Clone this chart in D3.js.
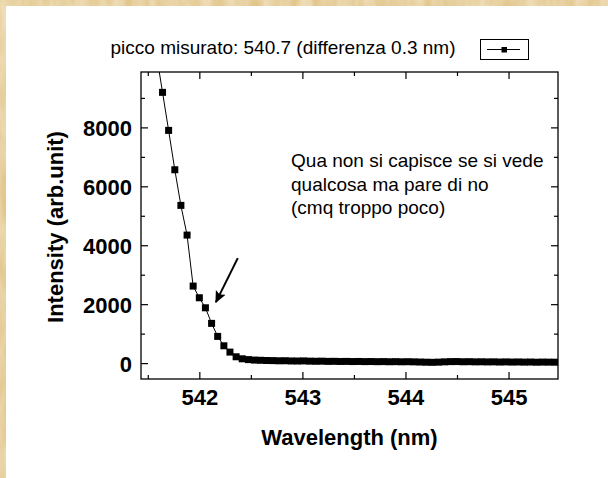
<!DOCTYPE html>
<html>
<head>
<meta charset="utf-8">
<script src="https://cdn.jsdelivr.net/npm/d3@7"></script>
<style>
  html, body { margin: 0; padding: 0; background: #fff; overflow: hidden; }
  svg { display: block; }
  text { font-family: "Liberation Sans", Arial, sans-serif; fill: #000; }
</style>
</head>
<body>
<svg id="chart" width="608" height="478"></svg>
<script>
// Emission spectrum near 542 nm
const wavelength = [
  541.583, 541.643, 541.702, 541.762, 541.821, 541.881, 541.940, 542.000, 542.059, 542.119,
  542.178, 542.238, 542.297, 542.357, 542.416, 542.476, 542.535, 542.595, 542.654, 542.714,
  542.773, 542.833, 542.892, 542.952, 543.011, 543.071, 543.130, 543.190, 543.249, 543.309,
  543.368, 543.428, 543.487, 543.547, 543.606, 543.666, 543.725, 543.785, 543.844, 543.904,
  543.963, 544.023, 544.082, 544.142, 544.201, 544.261, 544.320, 544.380, 544.439, 544.499,
  544.558, 544.618, 544.677, 544.737, 544.796, 544.856, 544.915, 544.975, 545.034, 545.094,
  545.153, 545.213, 545.272, 545.332, 545.391, 545.451, 545.510
];
const intensity = [
  10500, 9189, 7898, 6562, 5353, 4345, 2614, 2217, 1877, 1348,
  906, 587, 373, 214, 146, 118, 102, 95, 88, 84,
  78, 80, 72, 70, 74, 66, 62, 65, 58, 60,
  55, 57, 52, 55, 50, 53, 48, 51, 46, 49,
  44, 47, 42, 36, 30, 26, 32, 42, 50, 52,
  45, 48, 42, 44, 40, 42, 36, 40, 35, 38,
  33, 36, 30, 34, 32, 30, 31
];

const xMajorTicks = [542, 543, 544, 545];
const xMinorTicks = [541.5, 542.5, 543.5, 544.5];
const yMajorTicks = [0, 2000, 4000, 6000, 8000];
const yMinorTicks = [1000, 3000, 5000, 7000, 9000];

const titleText = "picco misurato: 540.7 (differenza 0.3 nm)";
const noteLines = ["Qua non si capisce se si vede", "qualcosa ma pare di no", "(cmq troppo poco)"];
// arrow: tail and head in data units [wavelength, intensity]
const arrowTail = [542.373, 3564];
const arrowHead = [542.161, 2070];
const noteAnchor = [542.89, 6640];

const W = 608, H = 478;
const frame = { left: 141, top: 72, right: 558, bottom: 379 };

const svg = d3.select("#chart");
const defs = svg.append("defs");

// parchment texture along the top and left border
const tex = defs.append("filter").attr("id", "parch")
  .attr("filterUnits", "userSpaceOnUse").attr("x", 0).attr("y", 0).attr("width", W).attr("height", H);
tex.append("feTurbulence").attr("type", "fractalNoise").attr("baseFrequency", "0.08 0.02")
  .attr("numOctaves", 3).attr("seed", 4).attr("result", "n");
tex.append("feColorMatrix").attr("in", "n").attr("type", "matrix")
  .attr("values", "0 0 0 0 0.92  0 0 0 0 0.82  0 0 0 0 0.60  0 0 0 -1.2 0.9").attr("result", "c");
tex.append("feComposite").attr("in", "c").attr("in2", "SourceGraphic").attr("operator", "atop");

const border = svg.append("g");
border.append("rect").attr("x", 0).attr("y", 0).attr("width", W).attr("height", 6).attr("fill", "#e2c68c").attr("filter", "url(#parch)");
border.append("rect").attr("x", 0).attr("y", 0).attr("width", 6).attr("height", H).attr("fill", "#e2c68c").attr("filter", "url(#parch)");

const x = d3.scaleLinear().domain([541.434, 545.48]).range([frame.left, frame.right]);
const y = d3.scaleLinear().domain([-540, 9880]).range([frame.bottom, frame.top]);

defs.append("clipPath").attr("id", "plotClip").append("rect")
  .attr("x", frame.left).attr("y", frame.top)
  .attr("width", frame.right - frame.left).attr("height", frame.bottom - frame.top);

// axes with inward ticks on all four sides
function drawAxis(axisFn, values, size, tx, ty, labels) {
  const g = svg.append("g").attr("transform", `translate(${tx},${ty})`)
    .call(axisFn.tickValues(values).tickSize(size).tickSizeOuter(0)
      .tickFormat(labels ? d3.format("d") : ""));
  g.select(".domain").remove();
  g.selectAll(".tick line").attr("stroke", "#000").attr("stroke-width", 1.2);
  return g;
}
const gx = drawAxis(d3.axisBottom(x), xMajorTicks, -7, 0, frame.bottom, true);
drawAxis(d3.axisBottom(x), xMinorTicks, -4, 0, frame.bottom, false);
drawAxis(d3.axisTop(x), xMajorTicks, -7, 0, frame.top, false);
drawAxis(d3.axisTop(x), xMinorTicks, -4, 0, frame.top, false);
const gy = drawAxis(d3.axisLeft(y), yMajorTicks, -7, frame.left, 0, true);
drawAxis(d3.axisLeft(y), yMinorTicks, -4, frame.left, 0, false);
drawAxis(d3.axisRight(y), yMajorTicks, -7, frame.right, 0, false);
drawAxis(d3.axisRight(y), yMinorTicks, -4, frame.right, 0, false);

gx.selectAll(".tick text")
  .attr("y", 26).attr("dy", 0)
  .style("font-family", '"Liberation Sans", Arial, sans-serif')
  .style("font-size", "22px").style("font-weight", "bold").attr("fill", "#000");
gy.selectAll(".tick text")
  .attr("x", -9).attr("dy", "0.36em")
  .style("font-family", '"Liberation Sans", Arial, sans-serif')
  .style("font-size", "22px").style("font-weight", "bold").attr("fill", "#000");

svg.append("rect")
  .attr("x", frame.left).attr("y", frame.top)
  .attr("width", frame.right - frame.left).attr("height", frame.bottom - frame.top)
  .attr("fill", "none").attr("stroke", "#000").attr("stroke-width", 1.3);

// spectrum
const points = wavelength.map((w, i) => [w, intensity[i]]);
const plot = svg.append("g").attr("clip-path", "url(#plotClip)");
plot.append("path").datum(points)
  .attr("fill", "none").attr("stroke", "#000").attr("stroke-width", 1)
  .attr("d", d3.line().x(d => x(d[0])).y(d => y(d[1])));
const ms = 7;
plot.selectAll("rect.pt").data(points).join("rect").attr("class", "pt")
  .attr("x", d => x(d[0]) - ms / 2).attr("y", d => y(d[1]) - ms / 2)
  .attr("width", ms).attr("height", ms).attr("fill", "#000");

// arrow annotation
defs.append("marker").attr("id", "head").attr("viewBox", "0 0 10 10")
  .attr("refX", 9).attr("refY", 5).attr("markerWidth", 6).attr("markerHeight", 6)
  .attr("orient", "auto").attr("markerUnits", "strokeWidth")
  .append("path").attr("d", "M0,0.5 L10,5 L0,9.5 L2,5 Z").attr("fill", "#000");
svg.append("line")
  .attr("x1", x(arrowTail[0])).attr("y1", y(arrowTail[1]))
  .attr("x2", x(arrowHead[0])).attr("y2", y(arrowHead[1]))
  .attr("stroke", "#000").attr("stroke-width", 2).attr("marker-end", "url(#head)");

// note text
svg.append("text").attr("x", x(noteAnchor[0])).attr("y", y(noteAnchor[1]))
  .style("font-size", "19px")
  .selectAll("tspan").data(noteLines).join("tspan")
  .attr("x", x(noteAnchor[0])).attr("dy", (d, i) => i === 0 ? 0 : 23.3)
  .text(d => d);

// title and legend
svg.append("text").attr("x", 110.5).attr("y", 53.5)
  .style("font-size", "19px").text(titleText);
const lg = svg.append("g");
lg.append("rect").attr("x", 480.5).attr("y", 39.5).attr("width", 48).attr("height", 20)
  .attr("fill", "#fff").attr("stroke", "#000").attr("stroke-width", 1);
lg.append("line").attr("x1", 487).attr("x2", 520).attr("y1", 49.5).attr("y2", 49.5)
  .attr("stroke", "#000").attr("stroke-width", 1);
lg.append("rect").attr("x", 501.5).attr("y", 47).attr("width", 5.5).attr("height", 5.5).attr("fill", "#000");

// axis titles
svg.append("text").attr("x", (frame.left + frame.right) / 2).attr("y", 445)
  .attr("text-anchor", "middle").style("font-size", "22px").style("font-weight", "bold")
  .text("Wavelength (nm)");
svg.append("text").attr("transform", `translate(63,227) rotate(-90)`)
  .attr("text-anchor", "middle").style("font-size", "22px").style("font-weight", "bold")
  .text("Intensity (arb.unit)");
</script>
</body>
</html>
